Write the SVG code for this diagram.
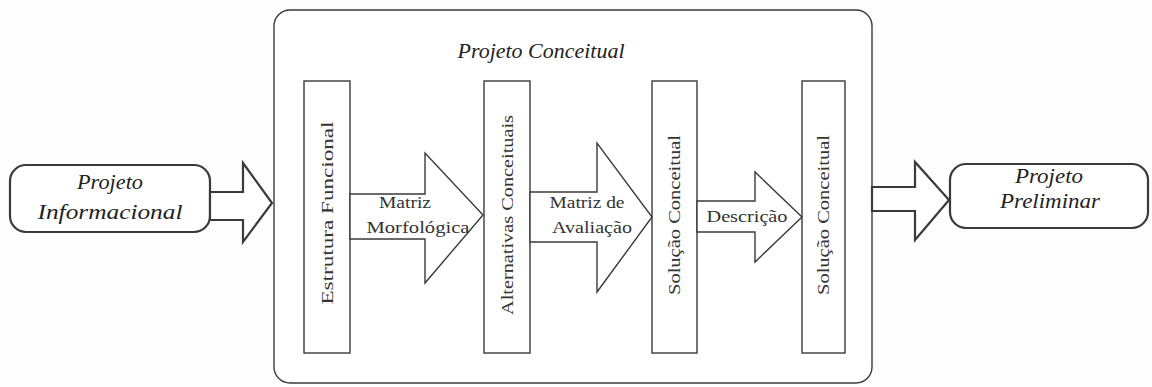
<svg xmlns="http://www.w3.org/2000/svg" width="1152" height="387" viewBox="0 0 1152 387">
<style>
.bg{fill:#fdfdfd}
.box{fill:#ffffff;stroke:#3a3a3a;stroke-width:1.4}
.arr{fill:#ffffff;stroke:#3a3a3a;stroke-width:1.4;stroke-linejoin:miter}
.bold{stroke-width:2.2}
.it{font-family:"Liberation Serif","DejaVu Serif",serif;font-style:italic;font-size:21px;fill:#222222}
.lb{font-family:"Liberation Serif","DejaVu Serif",serif;font-size:16px;fill:#333333}
</style>
<rect class="bg" x="0" y="0" width="1152" height="387"/>
<g id="conceitual">
<rect class="box" x="274" y="10" width="598" height="373" rx="16" ry="16"/>
<text class="it" x="541" y="58" text-anchor="middle" textLength="167" lengthAdjust="spacingAndGlyphs">Projeto Conceitual</text>
</g>
<g id="informacional">
<rect class="box bold" x="10" y="165" width="200" height="67" rx="16" ry="16"/>
<text class="it" x="110" y="189" text-anchor="middle" textLength="66" lengthAdjust="spacingAndGlyphs">Projeto</text>
<text class="it" x="110" y="219" text-anchor="middle" textLength="145" lengthAdjust="spacingAndGlyphs">Informacional</text>
</g>
<g id="preliminar">
<rect class="box bold" x="950" y="164" width="198" height="64" rx="16" ry="16"/>
<text class="it" x="1049" y="183" text-anchor="middle" textLength="68" lengthAdjust="spacingAndGlyphs">Projeto</text>
<text class="it" x="1050" y="208" text-anchor="middle" textLength="100" lengthAdjust="spacingAndGlyphs">Preliminar</text>
</g>
<g id="estrutura">
<rect class="box" x="304" y="81" width="46" height="272"/>
<text class="lb" transform="translate(333,213) rotate(-90)" text-anchor="middle" textLength="183" lengthAdjust="spacingAndGlyphs">Estrutura Funcional</text>
</g>
<g id="alternativas">
<rect class="box" x="484" y="81" width="46" height="272"/>
<text class="lb" transform="translate(513,215) rotate(-90)" text-anchor="middle" textLength="200" lengthAdjust="spacingAndGlyphs">Alternativas Conceituais</text>
</g>
<g id="solucao1">
<rect class="box" x="652" y="81" width="45" height="272"/>
<text class="lb" transform="translate(680,215) rotate(-90)" text-anchor="middle" textLength="160" lengthAdjust="spacingAndGlyphs">Solução Conceitual</text>
</g>
<g id="solucao2">
<rect class="box" x="802" y="81" width="43" height="272"/>
<text class="lb" transform="translate(829,215) rotate(-90)" text-anchor="middle" textLength="160" lengthAdjust="spacingAndGlyphs">Solução Conceitual</text>
</g>
<g id="connectors">
<polygon class="arr bold" points="210,192 243,192 243,163 272,203 243,242 243,220 210,220"/>
<polygon class="arr" points="350,194 425,194 425,153 483,215 425,283 425,239 350,239"/>
<polygon class="arr" points="530,192 597,192 597,143 652,217 597,292 597,242 530,242"/>
<polygon class="arr" points="697,201 755,201 755,172 802,217 755,262 755,232 697,232"/>
<polygon class="arr bold" points="872,187 915,187 915,162 949,200 915,240 915,211 872,211"/>
<text class="lb" x="405" y="208" text-anchor="middle" textLength="52" lengthAdjust="spacingAndGlyphs">Matriz</text>
<text class="lb" x="418" y="233" text-anchor="middle" textLength="103" lengthAdjust="spacingAndGlyphs">Morfológica</text>
<text class="lb" x="587" y="208" text-anchor="middle" textLength="75" lengthAdjust="spacingAndGlyphs">Matriz de</text>
<text class="lb" x="592" y="233" text-anchor="middle" textLength="80" lengthAdjust="spacingAndGlyphs">Avaliação</text>
<text class="lb" x="747" y="222" text-anchor="middle" textLength="81" lengthAdjust="spacingAndGlyphs">Descrição</text>
</g>
</svg>
